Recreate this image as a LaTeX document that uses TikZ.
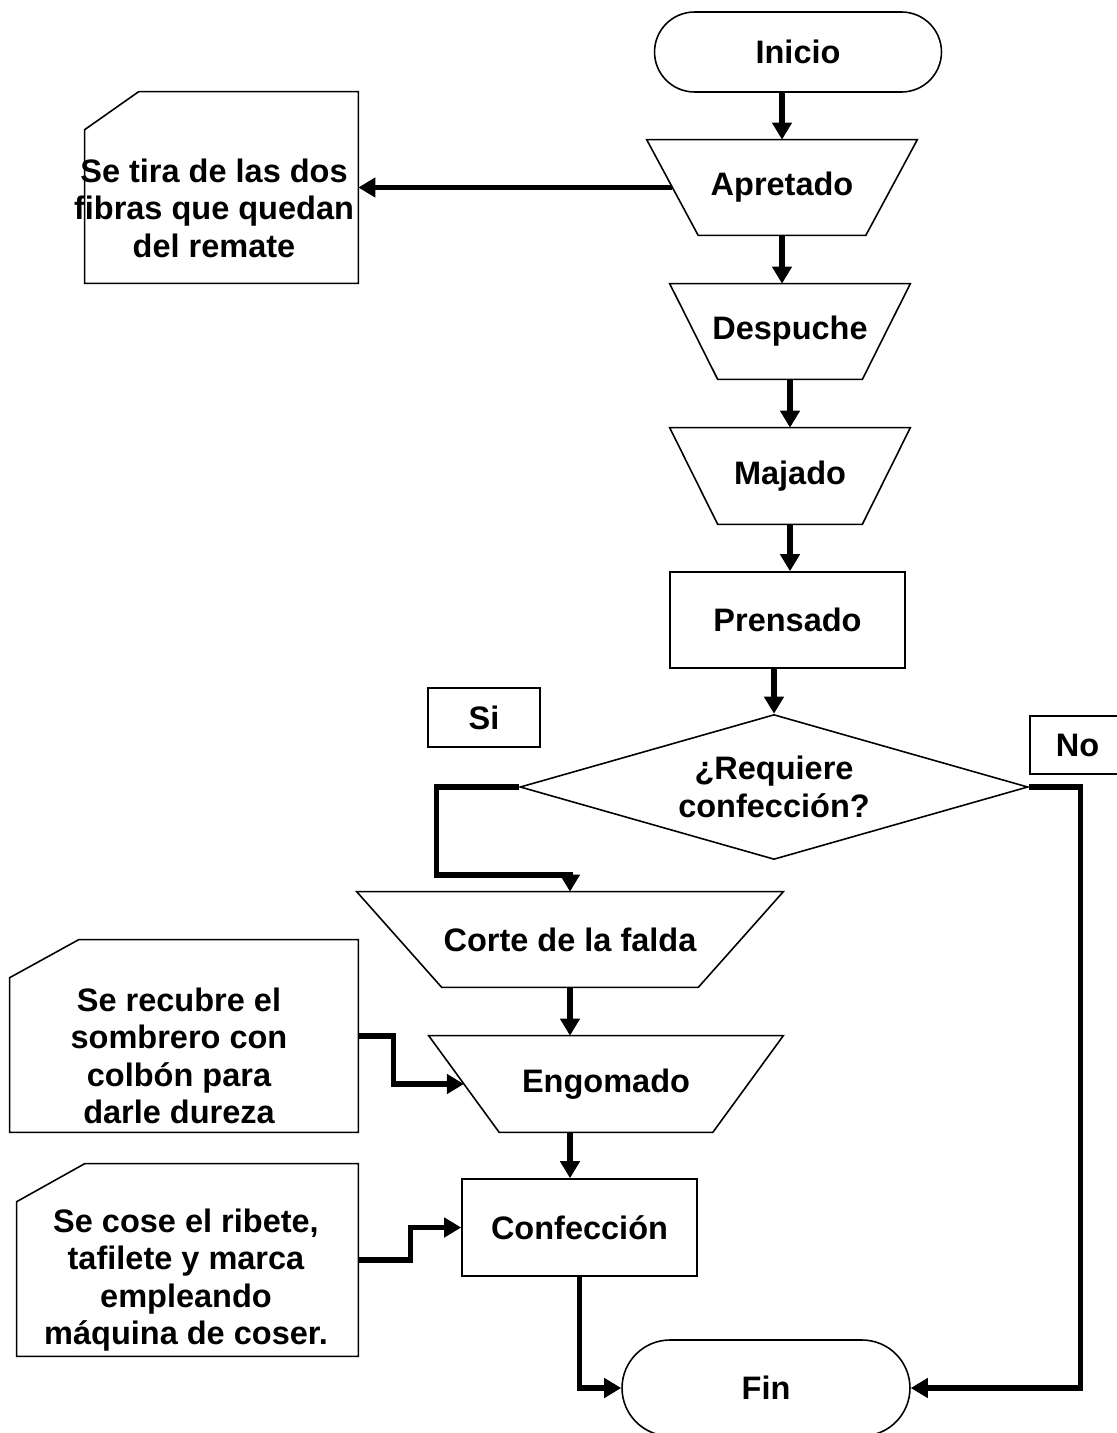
\documentclass[tikz,border=0pt]{standalone}
\usepackage{fontspec}
\setmainfont{Liberation Sans}
\usetikzlibrary{calc}
\usetikzlibrary{shapes}
\usetikzlibrary{arrows.meta}

\tikzset{
    box/.style={draw, line width=0.9pt, inner sep=0pt, align=center},
    proc/.style={box, rectangle, minimum width=4.7cm, minimum height=1.92cm},
    term/.style={box, rounded rectangle},
    manual/.style={rectangle, inner sep=0pt, align=center},
    outline/.style={line width=0.9pt},
    notebox/.style={rectangle, inner sep=0pt},
    notetext/.style={align=center, inner sep=0pt},
    tag/.style={box, rectangle},
    flow/.style={line width=3pt, -{Triangle[length=0.34cm, width=0.38cm]}},
}

\begin{document}
\begin{tikzpicture}[x=0.02cm, y=-0.02cm,
    font=\fontsize{18.5}{21.3}\selectfont\bfseries]

    \useasboundingbox (0,0) rectangle (1116,1433);

    % main column
    \node[term, minimum width=5.74cm, minimum height=1.6cm] (inicio) at (798,52) {Inicio};
    \node[manual, minimum width=5.4cm, minimum height=1.9cm] (apretado) at (782,187.5) {Apretado};
    \node[manual, minimum width=4.8cm, minimum height=1.9cm] (despuche) at (790,331.5) {Despuche};
    \node[manual, minimum width=4.8cm, minimum height=1.92cm] (majado) at (790,476) {Majado};
    \node[proc] (prensado) at (787.5,620) {Prensado};
    \node[box, diamond, shape aspect=3.5, minimum width=10.16cm, minimum height=2.9cm] (decision) at (774,787) {¿Requiere\\confección?};

    \node[tag, minimum width=2.24cm, minimum height=1.18cm] (si) at (484,717.5) {Si};
    \node[tag, minimum width=1.9cm, minimum height=1.16cm] (no) at (1077.5,745) {No};

    % branch Si
    \node[manual, minimum width=8.52cm, minimum height=1.9cm] (corte) at (570,939.5) {Corte de la falda};
    \node[manual, minimum width=7.08cm, minimum height=1.92cm] (engomado) at (606,1084) {Engomado};
    \node[proc, minimum height=1.94cm] (confeccion) at (579.5,1227.5) {Confección};
    \node[term, minimum width=5.76cm, minimum height=1.92cm] (fin) at (766,1388) {Fin};

    % manual operations, wide side on top
    \foreach \n/\d in {apretado/51.5, despuche/48, majado/48, corte/85, engomado/70.5}
    {
        \draw[outline] (\n.north west) -- (\n.north east) -- ($(\n.south east)+(-\d,0)$)
            -- ($(\n.south west)+(\d,0)$) -- cycle;
    }
    \coordinate (apretado_lc) at ($(apretado.west)+(25.75,0)$);
    \coordinate (engomado_lc) at ($(engomado.west)+(35.25,0)$);

    % notes
    \node[notebox, minimum width=5.46cm, minimum height=3.82cm] (nota1) at (221.5,187.5) {};
    \draw[outline] (nota1.south west) -- (nota1.south east) -- (nota1.north east)
        -- ($(nota1.north west)+(54,0)$) -- ($(nota1.north west)+(0,38)$) -- cycle;
    \node[notetext] (nota1txt) at (214,208) {Se tira de las dos\\fibras que quedan\\del remate};

    \node[notebox, minimum width=6.96cm, minimum height=3.84cm] (nota2) at (184,1036) {};
    \draw[outline] (nota2.south west) -- (nota2.south east) -- (nota2.north east)
        -- ($(nota2.north west)+(69,0)$) -- ($(nota2.north west)+(0,38)$) -- cycle;
    \node[notetext] (nota2txt) at (179,1056) {Se recubre el\\sombrero con\\colbón para\\darle dureza};

    \node[notebox, minimum width=6.82cm, minimum height=3.84cm] (nota3) at (187.5,1260) {};
    \draw[outline] (nota3.south west) -- (nota3.south east) -- (nota3.north east)
        -- ($(nota3.north west)+(68,0)$) -- ($(nota3.north west)+(0,38)$) -- cycle;
    \node[notetext] (nota3txt) at (186,1280) {Se cose el ribete,\\tafilete y marca\\empleando\\máquina de coser.};

    % connectors
    \draw[flow] (inicio.south -| apretado.north) -- (apretado.north);
    \draw[flow] (apretado.south) -- (apretado.south |- despuche.north);
    \draw[flow] (despuche.south) -- (despuche.south |- majado.north);
    \draw[flow] (majado.south) -- (majado.south |- prensado.north);
    \draw[flow] (decision.north |- prensado.south) -- (decision.north);
    \draw[flow] (apretado_lc) -- (apretado_lc -| nota1.east);

    \draw[flow] (decision.west) -| ++(-83,88) -| (corte.north);
    \draw[flow] (decision.east) -- ++(52,0) |- (fin.east);

    \draw[flow] (corte.south) -- (corte.south |- engomado.north);
    \draw[flow] (nota2.east) -- ++(35,0) |- (engomado_lc);
    \draw[flow] (engomado.south -| corte.south) -- (confeccion.north -| corte.south);
    \draw[flow] (nota3.east) -- ++(52,0) |- (confeccion.west);
    \draw[flow] (confeccion.south) |- (fin.west);

\end{tikzpicture}
\end{document}
